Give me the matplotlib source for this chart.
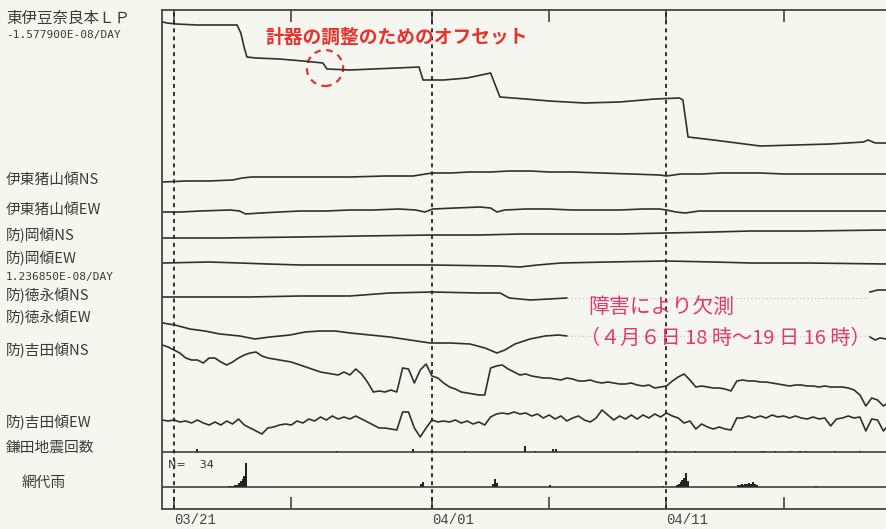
import numpy as np
import matplotlib
matplotlib.use("Agg")
import matplotlib.pyplot as plt
from matplotlib.patches import Ellipse
from matplotlib import transforms

plt.rcParams['font.family'] = ['Noto Sans CJK JP', 'DejaVu Sans']

nan = np.nan

# time in days since 03/21 00h
tick_days = [0, 11, 21]
tick_labels = ['03/21', '04/01', '04/11']
minor_days = [5, 16, 26]

# 東伊豆奈良本LP
lp_t = [-0.47, -0.3, 0.1, 1.0, 2.0, 2.69, 2.85, 3.0, 3.11, 3.5, 4.5, 5.5, 6.35, 6.52, 7.5, 8.5,
        9.5, 10.45, 10.62, 11.5, 12.5, 13.5, 13.75, 13.9, 15.0, 16.0, 17.5, 19.0, 20.5, 21.55,
        21.7, 21.92, 23.0, 24.0, 25.0, 26.5, 28.0, 29.4, 29.6, 29.9, 30.4]
lp = [1, 0, -1, -2, -2, -2, -10, -25, -34, -35, -36, -38, -40, -46, -47, -46,
      -45, -44, -57, -57, -55, -50, -65, -74, -76, -78, -80, -79, -76, -75,
      -77, -114, -117, -120, -123, -122, -121, -119, -117, -120, -120]

# 伊東猪山傾NS / EW
ito_ns_t = [-0.47, 0.5, 1.5, 2.5, 2.9, 3.3, 4.5, 6.0, 7.5, 9.0, 10.2, 11.0, 11.8, 12.6, 13.5, 14.3,
            15.2, 16.0, 17.0, 18.2, 19.5, 20.7, 21.0, 21.6, 22.5, 23.3, 24.2, 25.0, 26.0, 26.7,
            28.0, 29.5, 30.4]
ito_ns = [0, 1, 1, 2, 4, 5, 5, 5, 5, 6, 6, 9, 9, 10, 10, 11, 11, 10, 10, 9, 8, 7, 6, 8, 8, 9,
          9, 9, 8, 8, 8, 8, 8]
ito_ew_t = [-0.47, 0.3, 1.1, 2.4, 2.8, 3.05, 3.7, 4.5, 5.4, 6.5, 7.5, 8.5, 9.6, 10.3, 10.7, 11.04,
            12.0, 13.05, 13.5, 13.77, 14.1, 15.0, 16.0, 17.0, 18.0, 19.0, 20.0, 20.7, 21.0, 21.4,
            21.8, 22.4, 23.5, 24.6, 26.0, 27.5, 29.0, 30.4]
ito_ew = [0, 0, 1, 2, 1, -2, -1, 0, 1, 1, 2, 2, 3, 2, 0, 3, 4, 5, 4, 0, 2, 3, 3, 2, 2, 2, 3, 3,
          2, 0, -1, 1, 1, 1, 1, 1, 1, 1]

# 防)岡傾NS / EW
oka_ns_t = [-0.47, 2.0, 5.4, 8.0, 11.0, 13.0, 14.8, 16.5, 19.0, 21.0, 23.0, 24.6, 27.0, 30.4]
oka_ns = [0, 0, 1, 2, 3, 3, 4, 4, 4, 5, 6, 7, 7, 8]
oka_ew_t = [-0.47, 1.5, 2.8, 4.0, 5.4, 8.0, 11.0, 13.9, 14.75, 15.5, 16.5, 18.5, 21.0, 23.0, 24.6,
            27.0, 30.4]
oka_ew = [0, 1, 0, -1, -2, -2, -2, -3, -4, -2, 0, 1, 2, 1, 0, 0, -1]

# 防)徳永傾NS / EW (欠測 4/6 18時 - 4/19 16時)
tok_ns_t = [-0.47, 1.5, 3.2, 5.4, 7.5, 9.2, 11.0, 13.0, 13.9, 14.3, 15.2, 16.0, 16.75, 23.0,
            29.68, 30.0, 30.4]
tok_ns = [0, 0, 0, 1, 1, 4, 5, 4, 4, -1, -3, -2, -1, nan, 5, 7, 7]
tok_ew_t = [-0.47, 0.04, 0.68, 1.32, 1.96, 2.81, 3.45, 4.09, 4.95, 5.59, 6.23, 6.87, 7.51, 8.36,
            9.21, 10.06, 10.92, 11.77, 12.62, 13.26, 13.77, 14.11, 14.54, 15.18, 15.82, 16.4,
            16.75, 23.0, 29.68, 29.9, 30.1, 30.4]
tok_ew = [0, -2, -6, -8, -11, -13, -16, -14, -12, -9, -8, -8, -10, -12, -14, -17, -20, -20, -21,
          -25, -30, -27, -21, -16, -13, -12, -13, nan, -14, -17, -15, -16]

# 防)吉田傾NS / EW, 6時間毎
yoshida_t = np.linspace(-0.5, 30.5, 125)
yoshida_ns = [5, 3,
              0, -3, -8, -10,
              -10, -13, -8, -8,
              -12, -15, -12, -8,
              -5, -3, -2, -6,
              -8, -9, -10, -11,
              -12, -14, -16, -18,
              -20, -22, -23, -24,
              -25, -22, -25, -19,
              -24, -32, -42, -41,
              -42, -40, -42, -18,
              -19, -33, -20, -14,
              -26, -28, -33, -37,
              -39, -42, -43, -44,
              -45, -45, -18, -16,
              -15, -19, -22, -25,
              -24, -26, -27, -28,
              -28, -29, -30, -28,
              -29, -31, -31, -30,
              -32, -33, -32, -33,
              -34, -34, -33, -35,
              -36, -35, -38, -37,
              -36, -31, -27, -24,
              -30, -37, -36, -37,
              -38, -38, -39, -41,
              -31, -30, -31, -31,
              -32, -32, -33, -34,
              -35, -36, -35, -35,
              -36, -36, -37, -36,
              -37, -37, -37, -38,
              -40, -45, -56, -48,
              -50, -56, -52]
yoshida_ew = [0, -1,
              0, -2, -1, -3,
              0, -3, -5, -2,
              -5, -1, -4, 1,
              -5, -8, -11, -14,
              -8, -7, -5, -4,
              -5, -1, -3, 1,
              -1, 3, 0, 4,
              1, 3, 1, 4,
              1, -2, -5, -8,
              -8, -9, -10, 8,
              8, -8, -17, -8,
              0, -2, -1, -2,
              0, -3, -1, -4,
              -2, -5, 3, 6,
              7, 6, 8, 6,
              7, 4, 6, 2,
              5, 1, 4, -1,
              2, 4, 0, -2,
              2, 10, 5, 0,
              4, 1, 5, 1,
              5, 2, 6, 3,
              7, 4, 2, -3,
              -1, -9, -4, -7,
              -9, -7, -9, -10,
              2, 2, 4, 2,
              4, 2, 5, 3,
              4, 2, 4, 2,
              1, 3, 1, 2,
              -6, 1, 2, 4,
              2, 3, -11, 1,
              0, -11, -4]

# 鎌田地震回数
eq_t = [0.98, 6.95, 10.19, 12.41, 14.97, 15.39, 16.16, 16.29, 19.74, 21.02, 21.36, 22.22, 23.92,
        25.07, 25.20, 25.63, 26.27, 26.70, 26.96, 28.19, 29.25]
eq_n = [2, 1, 2, 1, 5, 1, 2, 2, 1, 1, 1, 1, 1, 1, 1, 1, 1, 1, 1, 1, 1]

# 網代雨
rain_t = [2.32, 2.40, 2.48, 2.56, 2.64, 2.72, 2.80, 2.88, 2.96, 3.04, 10.50, 10.58, 13.56, 13.64,
          13.72, 15.99, 20.80, 21.40, 21.48, 21.56, 21.64, 21.72, 21.80, 21.88, 24.00, 24.08,
          24.16, 24.24, 24.32, 24.40, 24.48, 24.56, 24.64, 24.72, 24.80, 27.33]
rain_mm = [1, 1, 1, 2, 2, 4, 6, 8, 11, 24, 3, 5, 3, 8, 4, 2, 1, 2, 3, 5, 7, 9, 14, 6, 2, 2, 3, 2,
           3, 3, 4, 3, 5, 3, 2, 1]

bg = '#f6f6f1'
ink = '#303030'
fig = plt.figure(figsize=(8.86, 5.29), dpi=100, facecolor=bg)
ax = fig.add_axes([162 / 886, 20 / 529, 724 / 886, 499 / 529], facecolor=bg)

# trace baselines on the chart
traces = [
    (lp_t, lp, 486),
    (ito_ns_t, ito_ns, 327),
    (ito_ew_t, ito_ew, 297),
    (oka_ns_t, oka_ns, 271),
    (oka_ew_t, oka_ew, 246),
    (tok_ns_t, tok_ns, 212),
    (tok_ew_t, tok_ew, 186),
    (yoshida_t, yoshida_ns, 159),
    (yoshida_t, yoshida_ew, 89),
]
for t, v, base in traces:
    ax.plot(t, np.array(v, dtype=float) + base, color=ink, lw=1.2)

# faint guide across the gap
ax.hlines([212 + tok_ns[12], 186 + tok_ew[26]], 16.75, 29.68, colors='#c9c9c4',
          linestyles=(0, (1, 2)), lw=0.9)

eq_base, rain_base = 57, 22
ax.axhline(eq_base, color=ink, lw=1.1)
ax.axhline(rain_base, color=ink, lw=1.1)
ax.bar(eq_t, np.array(eq_n) * 1.3, width=0.09, bottom=eq_base, color='#222222')
ax.bar(rain_t, rain_mm, width=0.085, bottom=rain_base, color='#222222', align='edge')
ax.text(-0.27, 44, 'N=    34', fontsize=8, color=ink, family='DejaVu Sans', va='center')

for d in tick_days:
    ax.axvline(d, color='#222222', lw=1.3, ls=(0, (2.2, 2.2)))

ax.set_xlim(-0.51, 30.36)
ax.set_ylim(0, 499)
ax.set_yticks([])
ax.set_xticks(tick_days)
ax.set_xticklabels(tick_labels, ha='left', fontsize=10, color='#444444', family='Liberation Mono')
ax.set_xticks(minor_days, minor=True)
ax.tick_params(which='both', direction='in', length=8.6, width=1.2, top=True, bottom=True,
               color='#444444', pad=3)
for s in ['left', 'top', 'bottom']:
    ax.spines[s].set_color('#444444')
    ax.spines[s].set_linewidth(1.3)
ax.spines['right'].set_visible(False)

# channel labels
tr = transforms.blended_transform_factory(fig.transFigure, ax.transData)
labels = [
    ('東伊豆奈良本ＬＰ', 491, 11.2, None),
    ('-1.577900E-08/DAY', 474, 8.0, 'DejaVu Sans Mono'),
    ('伊東猪山傾NS', 329, 10.6, None),
    ('伊東猪山傾EW', 299, 10.6, None),
    ('防)岡傾NS', 274, 10.6, None),
    ('防)岡傾EW', 251, 10.6, None),
    ('1.236850E-08/DAY', 232, 8.0, 'DejaVu Sans Mono'),
    ('防)徳永傾NS', 214, 10.6, None),
    ('防)徳永傾EW', 192, 10.6, None),
    ('防)吉田傾NS', 159, 10.6, None),
    ('防)吉田傾EW', 87, 10.6, None),
    ('鎌田地震回数', 61, 10.6, None),
]
for text, h, fs, fam in labels:
    kw = {'family': [fam, 'DejaVu Sans']} if fam else {}
    ax.text(6 / 886, h, text, transform=tr, fontsize=fs, color='#3a3a3a', va='center',
            clip_on=False, **kw)
ax.text(22 / 886, 26, '網代雨', transform=tr, fontsize=10.6, color='#3a3a3a', va='center',
        clip_on=False)

# annotations
red = '#e8322d'
pink = '#e2386c'
ax.text(9.5, 472, '計器の調整のためのオフセット', color=red, fontsize=13.5, fontweight='bold',
        ha='center', va='center')
ax.add_patch(Ellipse((6.44, 441), 1.55, 36, fill=False, ec=red, lw=1.6, ls=(0, (3, 2.5))))
ax.text(17.65, 202, '障害により欠測', color=pink, fontsize=15, ha='left', va='center')
ax.text(17.3, 171, '（４月６日 18 時～19 日 16 時）', color=pink, fontsize=14.5, ha='left',
        va='center')

fig.savefig('out.png', dpi=100, facecolor=bg)
